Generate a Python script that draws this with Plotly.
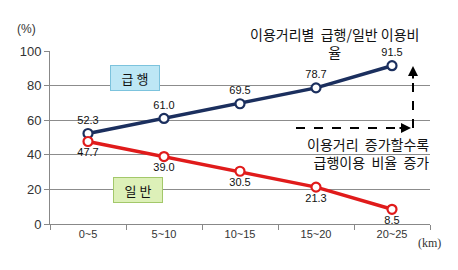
import plotly.graph_objects as go

categories = ["0~5", "5~10", "10~15", "15~20", "20~25"]
express = [52.3, 61.0, 69.5, 78.7, 91.5]
general = [47.7, 39.0, 30.5, 21.3, 8.5]
y_ticks = [0, 20, 40, 60, 80, 100]

NAVY = "#1B2F5E"
RED = "#E01B1B"
KR = "Noto Sans CJK KR"

L, R, T, B = 50, 430, 51, 224
W, H = 458, 270

def px(x):
    return (x - L) / (R - L)

def py(y):
    return (B - y) / (B - T)

fig = go.Figure()
fig.add_trace(go.Scatter(
    x=categories, y=express, mode="lines+markers+text",
    line=dict(color=NAVY, width=3.5),
    marker=dict(size=9, color="white", line=dict(color=NAVY, width=2.2)),
    text=[f"{v:.1f}" for v in express], textposition="top center",
    textfont=dict(family="Liberation Sans", size=11, color="#111"),
    cliponaxis=False, showlegend=False))
fig.add_trace(go.Scatter(
    x=categories, y=general, mode="lines+markers+text",
    line=dict(color=RED, width=3.5),
    marker=dict(size=9, color="white", line=dict(color=RED, width=2.2)),
    text=[f"{v:.1f}" for v in general], textposition="bottom center",
    textfont=dict(family="Liberation Sans", size=11, color="#111"),
    cliponaxis=False, showlegend=False))

def note(x, y, text, size=14, family=KR, color="#111", xanchor="center", **kw):
    d = dict(x=px(x), y=py(y), xref="paper", yref="paper", text=text, showarrow=False,
             xanchor=xanchor, yanchor="middle", font=dict(family=family, size=size, color=color))
    d.update(kw)
    return d

ann = [
    note(26, 29, "(%)", size=12, family="Liberation Sans", color="#333"),
    note(429, 243, "(km)", size=12, family="Liberation Serif", color="#333"),
    note(135, 78, "급 행", size=13, bgcolor="#BDE7F5", bordercolor="#7CC3DD", borderwidth=1,
         borderpad=3, width=42, height=18),
    note(138, 190, "일 반", size=13, bgcolor="#DDF0B8", bordercolor="#A3C86A", borderwidth=1,
         borderpad=3, width=42, height=18),
    note(334, 43, "이용거리별  급행/일반 이용비<br>율", size=14, align="center"),
    note(431, 153, "이용거리  증가할수록<br>급행이용  비율  증가", size=14, xanchor="right",
         align="right"),
]
# arrowheads
ann.append(dict(x=px(411), y=py(128), ax=-13, ay=0, xref="paper", yref="paper",
                axref="pixel", ayref="pixel", text="", showarrow=True, arrowhead=2,
                arrowsize=1, arrowwidth=2, arrowcolor="black"))
ann.append(dict(x=px(413), y=py(66), ax=0, ay=14, xref="paper", yref="paper",
                axref="pixel", ayref="pixel", text="", showarrow=True, arrowhead=2,
                arrowsize=1, arrowwidth=2, arrowcolor="black"))

shapes = [
    dict(type="line", xref="paper", yref="paper", x0=px(296), x1=px(402), y0=py(128), y1=py(128),
         line=dict(color="black", width=2, dash="dash")),
    dict(type="line", xref="paper", yref="paper", x0=px(413), x1=px(413), y0=py(128), y1=py(74),
         line=dict(color="black", width=2, dash="dash")),
]

fig.update_layout(
    width=W, height=H, margin=dict(l=L, r=W - R, t=T, b=H - B),
    paper_bgcolor="white", plot_bgcolor="white",
    annotations=ann, shapes=shapes,
    xaxis=dict(type="category", showgrid=False, showline=True, linecolor="#888", linewidth=1,
               ticks="outside", tickson="boundaries", ticklen=5, tickcolor="#888",
               tickfont=dict(family="Liberation Sans", size=11, color="#333"),
               range=[-0.5, 4.5]),
    yaxis=dict(range=[0, 100], tickvals=y_ticks, showgrid=True, gridcolor="#8c8c8c", gridwidth=1,
               showline=True, linecolor="#888", ticks="outside", ticklen=5, tickcolor="#888",
               zeroline=False,
               tickfont=dict(family="Liberation Sans", size=13, color="#333")),
)

fig.write_html("out.html")
